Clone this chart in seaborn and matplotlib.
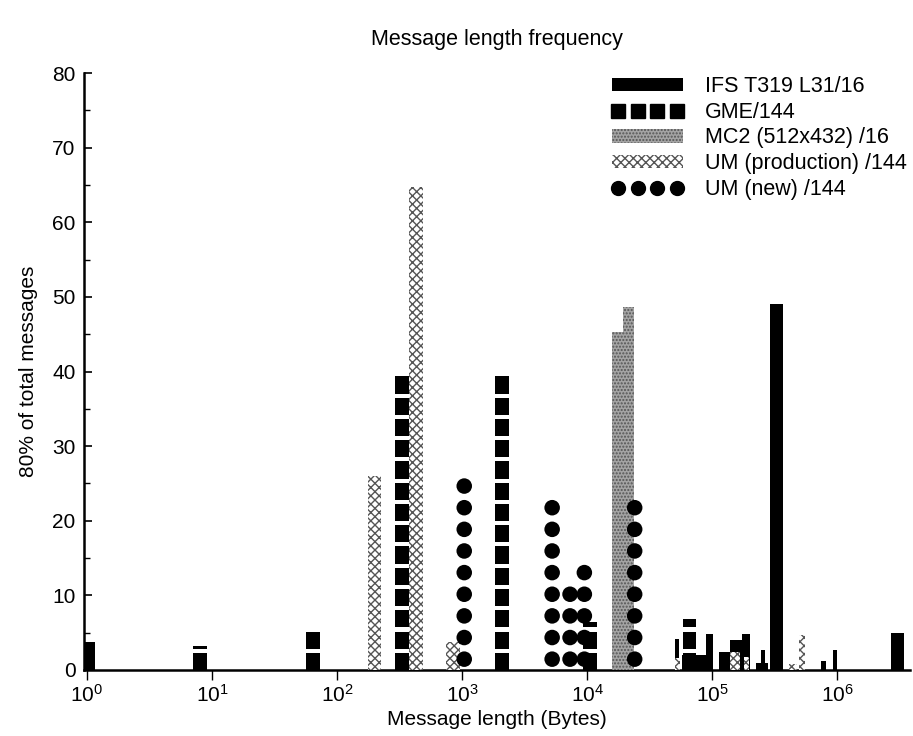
import numpy as np
import pandas as pd
import seaborn as sns
import matplotlib.pyplot as plt
from matplotlib.lines import Line2D
from matplotlib.patches import Patch

# message length in bytes, share of total messages in %
ifs_len = [1.03, 5.25e4, 7.6e4, 9.55e4, 1.26e5, 1.56e5, 1.87e5, 2.5e5, 2.56e5, 3.25e5, 7.7e5, 9.6e5, 3.04e6]
ifs_pct = [3.7, 4.1, 2.0, 4.8, 2.4, 4.0, 4.8, 1.0, 2.7, 49.0, 1.2, 2.7, 5.0]

gme_len = [8.0, 64, 331, 2090, 1.05e4, 6.6e4]
gme_pct = [3.2, 5.3, 40.0, 39.5, 6.4, 6.8]

mc2_len = [1.74e4, 2.13e4]
mc2_pct = [45.3, 48.6]

ump_len = [199, 428, 850, 5.25e4, 1.52e5, 1.87e5, 4.45e5, 5.2e5]
ump_pct = [26.0, 64.7, 3.8, 1.6, 2.4, 1.8, 0.8, 4.7]

umn_len = [1040, 5250, 7300, 9500, 2.4e4]
umn_pct = [26.0, 23.0, 12.0, 13.5, 23.0]

labels = ["IFS T319 L31/16", "GME/144", "MC2 (512x432) /16",
          "UM (production) /144", "UM (new) /144"]

# bar widths in decades (style only)
ifs_w = [0.105, 0.03, 0.25, 0.056, 0.088, 0.096, 0.064, 0.1, 0.03, 0.104, 0.04, 0.03, 0.104]
ump_w = [0.11, 0.11, 0.11, 0.04, 0.08, 0.04, 0.06, 0.05]

sns.set_style("ticks")
plt.rcParams['font.family'] = ['Liberation Sans', 'DejaVu Sans']
plt.rcParams['mathtext.fontset'] = 'custom'
plt.rcParams['mathtext.rm'] = 'Liberation Sans'
plt.rcParams['hatch.linewidth'] = 1.0
plt.rcParams['text.color'] = 'black'
plt.rcParams['axes.labelcolor'] = 'black'
plt.rcParams['xtick.color'] = 'black'
plt.rcParams['ytick.color'] = 'black'


def log_bar(ax, centers, heights, widths, bottoms=None, **kw):
    c = np.asarray(centers, dtype=float)
    w = np.asarray(widths, dtype=float)
    left = c * 10 ** (-w / 2)
    right = c * 10 ** (w / 2)
    ax.bar(left, heights, width=right - left, bottom=bottoms, align='edge', **kw)


fig = plt.figure(figsize=(9.13, 7.36), dpi=100)
ax = fig.add_axes([0.092, 0.0897, 0.905, 0.811])
ax.set_xscale('log')

# IFS: solid black bars
log_bar(ax, ifs_len, ifs_pct, ifs_w, color='black', linewidth=0, zorder=2)

# MC2: grey stipple
log_bar(ax, mc2_len, mc2_pct, [0.085, 0.085], facecolor='#a4a4a4',
        edgecolor='#555555', hatch='.....', linewidth=0, zorder=3)

# UM production: grey cross pattern
log_bar(ax, ump_len, ump_pct, ump_w, facecolor='white',
        edgecolor='#555555', hatch='xxxx', linewidth=0, zorder=4)

# GME: stacked black squares
step, sq = 2.85, 2.3
seg_c, seg_b, seg_h = [], [], []
for x, h in zip(gme_len, gme_pct):
    for b in np.arange(0, h, step):
        seg_c.append(x)
        seg_b.append(b)
        seg_h.append(min(sq, h - b))
log_bar(ax, seg_c, seg_h, [0.11] * len(seg_c), bottoms=seg_b,
        color='black', linewidth=0, zorder=5)

# UM new: stacked black circles
cstep = 2.9
pts = [(x, cstep * (k + 0.5)) for x, h in zip(umn_len, umn_pct)
       for k in range(int(round(h / cstep)))]
circ = pd.DataFrame(pts, columns=['length', 'pct'])
sns.scatterplot(data=circ, x='length', y='pct', ax=ax, color='black',
                s=125, marker='o', edgecolor='none', zorder=6, legend=False)

ax.set_xlim(0.946, 3.84e6)
ax.set_ylim(0, 80)
ax.set_yticks(np.arange(0, 81, 10))
ax.set_yticks(np.arange(5, 80, 10), minor=True)
ax.set_xticks([1e0, 1e1, 1e2, 1e3, 1e4, 1e5, 1e6])
ax.xaxis.set_minor_locator(plt.NullLocator())

for s in ['top', 'right']:
    ax.spines[s].set_visible(False)
for s in ['left', 'bottom']:
    ax.spines[s].set_linewidth(1.8)
    ax.spines[s].set_color('black')

ax.tick_params(axis='y', which='major', direction='in', length=6, width=1.2,
               labelsize=15, pad=6)
ax.tick_params(axis='y', which='minor', direction='in', length=4, width=1.0)
ax.tick_params(axis='x', which='major', direction='out', length=7, width=1.0,
               labelsize=15, pad=3)

ax.set_xlabel("Message length (Bytes)", fontsize=15, labelpad=3)
ax.set_ylabel("80% of total messages", fontsize=15, labelpad=10)
ax.set_title("Message length frequency", fontsize=15.5, pad=20)

handles = [
    Patch(facecolor='black', edgecolor='none'),
    Line2D([], [], marker='s', color='black', linestyle='none', markersize=10),
    Patch(facecolor='#a4a4a4', edgecolor='#555555', hatch='.....', linewidth=0),
    Patch(facecolor='white', edgecolor='#555555', hatch='xxxx', linewidth=0),
    Line2D([], [], marker='o', color='black', linestyle='none', markersize=10),
]
ax.legend(handles, labels, loc='upper left', bbox_to_anchor=(612 / 913, 1 - 76 / 736),
          bbox_transform=fig.transFigure, frameon=False, fontsize=15.5,
          numpoints=4, handlelength=3.3, handleheight=0.6, handletextpad=1.0,
          labelspacing=0.22, borderaxespad=0, borderpad=0)

fig.savefig("out.png", dpi=100)
